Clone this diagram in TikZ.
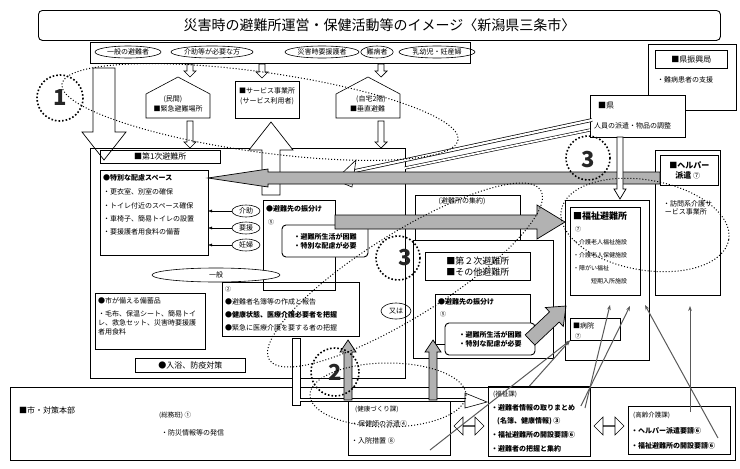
\documentclass[tikz,border=0pt]{standalone}
\usepackage{fontspec}
\setmainfont{Noto Sans CJK JP}
\XeTeXlinebreaklocale "ja"
\usetikzlibrary{positioning,shapes.arrows,shapes.geometric,arrows.meta,calc}
\tikzset{
  box/.style={draw, line width=0.9pt, anchor=north west, inner sep=0pt},
  tbox/.style={draw, line width=0.5pt, anchor=north west, inner sep=0pt},
  txt/.style={anchor=west, inner sep=1pt, font=\fontsize{7}{8}\selectfont},
  oval/.style={draw, ellipse, line width=0.6pt, inner sep=1pt, font=\fontsize{7}{8}\selectfont},
  dotc/.style={draw, line width=1.6pt, dotted},
  dotl/.style={draw, line width=1pt, dotted},
  thin/.style={-{Stealth[length=5pt]}, gray!70!black, line width=1pt},
  big/.style={font=\fontsize{22}{22}\bfseries\selectfont, text=black!85}
}
% block arrow: from, to, shaft half width, head half width, head length, fill
\newcommand\blockarrow[6]{%
  \draw[fill=#6, line width=0.7pt] let \p1=(#1), \p2=(#2), \n1={atan2(\y2-\y1,\x2-\x1)} in
    ($(\p1)+(\n1+90:#3pt)$) -- ($(\p2)+(\n1:-#5pt)+(\n1+90:#3pt)$) -- ($(\p2)+(\n1:-#5pt)+(\n1+90:#4pt)$)
    -- (\p2) -- ($(\p2)+(\n1:-#5pt)+(\n1-90:#4pt)$) -- ($(\p2)+(\n1:-#5pt)+(\n1-90:#3pt)$)
    -- ($(\p1)+(\n1-90:#3pt)$) -- cycle;}
\begin{document}
\begin{tikzpicture}[x=1pt,y=-1pt]
\useasboundingbox (0,0) rectangle (740,469);
% title
\node[draw, rounded corners=4pt, line width=0.9pt, minimum width=682pt, minimum height=30pt, anchor=north west,
  font=\fontsize{14}{15}\selectfont] (title) at (38,10) {災害時の避難所運営・保健活動等のイメージ〈新潟県三条市〉};
% people
\node[tbox, minimum width=380pt, minimum height=21pt] (people) at (90,42) {};
\node[oval, minimum width=66pt] (p1) at (128,52) {一般の避難者};
\node[oval, minimum width=80pt] (p2) at (212,52) {介助等が必要な方};
\node[oval, minimum width=74pt] (p3) at (322,52) {災害時要援護者};
\node[oval] (p4) at (377,52) {難病者};
\node[oval, minimum width=76pt] (p5) at (437,52) {乳幼児・妊産婦};
% prefecture office
\node[tbox, minimum width=88pt, minimum height=66pt] (kyoku) at (648,44) {};
\node[tbox, minimum width=72pt, minimum height=18pt, font=\fontsize{8}{9}\selectfont] (kyokut) at (655,50) {■県振興局};
\node[txt] at (656,80) {・難病患者の支援};
% arrival
\coordinate (bd1) at (104,68);
\coordinate (bd2) at (104,160);
\blockarrow{bd1}{bd2}{11}{22}{28}{white}
\foreach \x/\a/\b in {190/64/77, 262/64/78, 381/64/77, 190/121/148, 381/121/148}{
  \coordinate (s1) at (\x,\a); \coordinate (s2) at (\x,\b);
  \blockarrow{s1}{s2}{3}{6}{6}{white}}
% houses
\draw[line width=0.6pt] (146,118) -- (146,94) -- (178,77) -- (210,94) -- (210,118) -- cycle;
\node[font=\fontsize{7}{8}\selectfont, align=left] (minkan) at (178,104) {\hspace*{10pt}(民間)\\[2pt]■緊急避難場所};
\node[tbox, minimum width=64pt, minimum height=37pt] (svc) at (235,81) {};
\node[font=\fontsize{7}{8}\selectfont, align=left] at (267,96) {■サービス事業所\\[2pt]\,(サービス利用者)};
\draw[line width=0.6pt] (336,118) -- (336,94) -- (368,77) -- (400,94) -- (400,118) -- cycle;
\node[font=\fontsize{7}{8}\selectfont, align=left] (jitaku) at (368,104) {\hspace*{6pt}(自宅2階)\\[2pt]■垂直避難};
% first shelter
\node[box, minimum width=315pt, minimum height=230pt] (first) at (90,148) {};
\node[tbox, minimum width=120pt, minimum height=13pt, font=\fontsize{8}{9}\selectfont] (firstt) at (100,150) {■第1次避難所\hspace{48pt}};
\coordinate (up1) at (271,195);
\coordinate (up2) at (271,122);
\blockarrow{up1}{up2}{9}{22}{28}{white}
\node[tbox, minimum width=108pt, minimum height=85pt] (space) at (100,170) {};
\node[txt, font=\fontsize{7}{8}\bfseries\selectfont] at (102,178) {●特別な配慮スペース};
\node[txt] at (102,192) {・更衣室、別室の確保};
\node[txt] at (102,206) {・トイレ付近のスペース確保};
\node[txt] at (102,219) {・車椅子、簡易トイレの設置};
\node[txt] at (102,232) {・要援護者用食料の備蓄};
\node[oval, minimum width=28pt] (kaijo) at (246,211) {介助};
\node[oval, minimum width=28pt] (yoen) at (246,228) {要援};
\node[oval, minimum width=28pt] (ninpu) at (246,245) {妊婦};
\draw[-{Latex[length=4pt]}] (kaijo) -- (208,211);
\draw[-{Latex[length=4pt]}] (yoen) -- (208,228);
\draw[-{Latex[length=4pt]}] (ninpu) -- (208,245);
\node[tbox, minimum width=72pt, minimum height=90pt] (furi1) at (263,200) {};
\node[txt, font=\fontsize{7}{8}\bfseries\selectfont] at (265,209) {●避難先の振分け};
\node[txt, font=\fontsize{6}{7}\selectfont] at (267,222) {⑤};
\node[draw, rounded corners=4pt, line width=0.9pt, fill=white, align=left, font=\fontsize{7}{8}\bfseries\selectfont,
  minimum width=86pt, minimum height=32pt] (need1) at (325,241) {・避難所生活が困難\\[1pt]・特別な配慮が必要};
\node[oval, minimum width=128pt, minimum height=14pt, fill=white] (ippan) at (216,275) {一般};
\node[tbox, minimum width=137pt, minimum height=54pt] (meibo) at (222,282) {};
\node[txt, font=\fontsize{6}{7}\selectfont] at (224,289) {②};
\node[txt] at (224,302) {●避難者名簿等の作成と報告};
\node[txt, font=\fontsize{7}{8}\bfseries\selectfont] at (224,315) {●健康状態、医療介護必要者を把握};
\node[txt] at (224,328) {●緊急に医療介護を要する者の把握};
\node[tbox, minimum width=110pt, minimum height=56pt] (bichiku) at (95,293) {};
\node[txt] at (97,301) {●市が備える備蓄品};
\node[anchor=north west, inner sep=1pt, align=left, text width=100pt, font=\fontsize{7}{9}\selectfont] at (97,309) {・毛布、保温シート、簡易トイレ、救急セット、災害時要援護者用食料};
\node[tbox, minimum width=110pt, minimum height=14pt, font=\fontsize{8}{9}\selectfont] (nyuyoku) at (135,358) {●入浴、防疫対策};
% prefecture
\node[tbox, minimum width=95pt, minimum height=42pt, fill=white] (ken) at (590,95) {};
\node[txt, font=\fontsize{8}{9}\selectfont] at (597,106) {■県};
\node[txt] at (593,126) {人員の派遣・物品の調整};
\draw[line width=3pt] (590,130) -- (405,168);
\draw[line width=1.8pt, white] (590,130) -- (405,168);
\draw[line width=3.6pt] (592,120) -- (350,172);
\draw[line width=2.2pt, white] (592,120) -- (350,172);
\draw[fill=white, line width=0.6pt] (335,180) -- (356,160) -- (352,187) -- cycle;
% helper
\node[box, minimum width=65pt, minimum height=145pt] (helper) at (655,150) {};
\node[tbox, minimum width=58pt, minimum height=30pt, fill=white, align=left, font=\fontsize{8}{10}\bfseries\selectfont] (helpert) at (660,155) {■ヘルパー\\\hspace*{6pt}派遣 {\normalfont\fontsize{7}{8}\selectfont⑦}};
\node[txt, align=left] at (662,208) {・訪問系介護サ\\\ ービス事業所};
% gray arrow left
\coordinate (g1) at (660,178);
\coordinate (g2) at (208,178);
\blockarrow{g1}{g2}{6}{9}{60}{gray!60}
\coordinate (kd1) at (620,137);
\coordinate (kd2) at (620,199);
\blockarrow{kd1}{kd2}{3}{6}{10}{white}
% gathering
\node[tbox, minimum width=105pt, minimum height=112pt] (shuyaku) at (415,195) {};
\node[font=\fontsize{7}{8}\selectfont] at (462,201) {(避難所の集約)};
\coordinate (g3) at (335,222);
\coordinate (g4) at (565,222);
\blockarrow{g3}{g4}{7}{17}{28}{gray!60}
% second shelter
\node[box, minimum width=140pt, minimum height=118pt, fill=white] (second) at (413,240) {};
\node[tbox, minimum width=105pt, minimum height=28pt, align=left, font=\fontsize{9}{11}\selectfont] (secondt) at (425,252) {■第２次避難所\\■その他避難所};
\node[tbox, minimum width=95pt, minimum height=50pt] (furi2) at (435,294) {};
\node[txt, font=\fontsize{7}{8}\bfseries\selectfont] at (437,302) {●避難先の振分け};
\node[txt, font=\fontsize{6}{7}\selectfont] at (439,314) {⑤};
\node[draw, rounded corners=4pt, line width=0.9pt, fill=white, align=left, font=\fontsize{7}{8}\bfseries\selectfont,
  minimum width=90pt, minimum height=32pt] (need2) at (490,339) {・避難所生活が困難\\[1pt]・特別な配慮が必要};
\coordinate (g5) at (530,340);
\coordinate (g6) at (566,306);
\blockarrow{g5}{g6}{7}{13}{16}{gray!60}
\node[oval, minimum width=30pt, minimum height=16pt] (mataha) at (396,311) {又は};
% welfare shelter
\node[box, minimum width=84pt, minimum height=160pt] (fukushi) at (565,200) {};
\node[tbox, minimum width=70pt, minimum height=88pt] (fukushit) at (570,207) {};
\node[txt, font=\fontsize{9}{10}\bfseries\selectfont] at (572,216) {■福祉避難所};
\node[txt, font=\fontsize{6}{7}\selectfont] at (574,229) {⑦};
\node[txt, font=\fontsize{6}{7}\selectfont] at (572,242) {・介護老人福祉施設};
\node[txt, font=\fontsize{6}{7}\selectfont] at (572,255) {・介護老人保健施設};
\node[txt, font=\fontsize{6}{7}\selectfont] at (572,268) {・障がい福祉};
\node[txt, font=\fontsize{6}{7}\selectfont] at (590,281) {短期入所施設};
\node[tbox, minimum width=50pt, minimum height=22pt] (byoin) at (570,318) {};
\node[txt] at (572,326) {■病院};
\node[txt, font=\fontsize{6}{7}\selectfont] at (574,336) {⑦};
% city HQ
\node[box, minimum width=725pt, minimum height=73pt] (city) at (10,387) {};
\node[txt, font=\fontsize{8}{9}\selectfont] at (18,410) {■市・対策本部};
\node[txt, font=\fontsize{6.5}{7}\selectfont] at (158,415) {(総務班) ①};
\node[txt] at (160,433) {・防災情報等の発信};
\node[box, minimum width=102pt, minimum height=55pt] (kenko) at (348,400) {};
\node[txt, font=\fontsize{6.5}{7}\selectfont] at (354,409) {(健康づくり課)};
\node[txt] at (350,424) {・保健師の派遣④};
\node[txt] at (350,441) {・入院措置 ⑧};
\node[box, minimum width=102pt, minimum height=70pt] (fukka) at (488,386) {};
\node[txt, font=\fontsize{6.5}{7}\selectfont] at (492,394) {(福祉課)};
\node[txt, font=\fontsize{7}{8}\bfseries\selectfont] at (490,408) {・避難者情報の取りまとめ};
\node[txt, font=\fontsize{7}{8}\bfseries\selectfont] at (496,421) {(名簿、健康情報) ③};
\node[txt, font=\fontsize{7}{8}\bfseries\selectfont] at (490,435) {・福祉避難所の開設要請⑥};
\node[txt, font=\fontsize{7}{8}\bfseries\selectfont] at (490,449) {・避難者の把握と集約};
\node[box, minimum width=102pt, minimum height=48pt] (korei) at (628,406) {};
\node[txt, font=\fontsize{6.5}{7}\selectfont] at (632,415) {(高齢介護課)};
\node[txt, font=\fontsize{7}{8}\bfseries\selectfont] at (630,431) {・ヘルパー派遣要請⑥};
\node[txt, font=\fontsize{7}{8}\bfseries\selectfont] at (630,446) {・福祉避難所の開設要請⑥};
\node[draw, double arrow, minimum width=18pt, minimum height=30pt, inner sep=0pt, line width=0.6pt] at (469,426) {};
\node[draw, double arrow, minimum width=18pt, minimum height=30pt, inner sep=0pt, line width=0.6pt] at (609,426) {};
% report path
\draw[fill=white, line width=0.6pt] (292,338) rectangle (300,405);
\draw[line width=3.6pt] (300,400) -- (465,400);
\draw[line width=2.2pt, white] (298,400) -- (465,400);
\draw[fill=white, line width=0.6pt] (465,393) -- (487,402) -- (465,408) -- cycle;
% nurses
\foreach \x in {348,433}{
  \coordinate (n1) at (\x,400); \coordinate (n2) at (\x,340);
  \blockarrow{n1}{n2}{4}{8}{12}{gray!60}}
% thin links
\draw[thin] (430,450) -- (byoin.south west);
\draw[thin] (fukka.north) ++(-10,0) -- (byoin.south west);
\draw[thin] (585,408) -- (610,305);
\draw[thin] (fukka.north east) ++(-10,20) -- (630,306);
\draw[thin] (718,438) -- (645,305);
\draw[thin] (690,412) -- (690,306);
% dotted marks
\draw[dotc] (60,98) circle (23);
\node[big] at (60,98) {1};
\draw[dotl, rotate around={-8:(260,112)}] (260,112) ellipse (200 and 40);
\draw[dotc] (588,158) circle (22);
\node[big] at (588,160) {3};
\draw[dotc] (398,258) circle (22);
\node[big] at (405,258) {3};
\draw[dotl, rotate around={-10:(645,225)}] (645,225) ellipse (85 and 45);
\draw[dotl, rotate around={32:(405,275)}] (405,275) ellipse (160 and 42);
\draw[dotc] (335,372) circle (24);
\node[big] at (335,372) {2};
\draw[dotl] (388,395) ellipse (78 and 32);
\end{tikzpicture}
\end{document}
